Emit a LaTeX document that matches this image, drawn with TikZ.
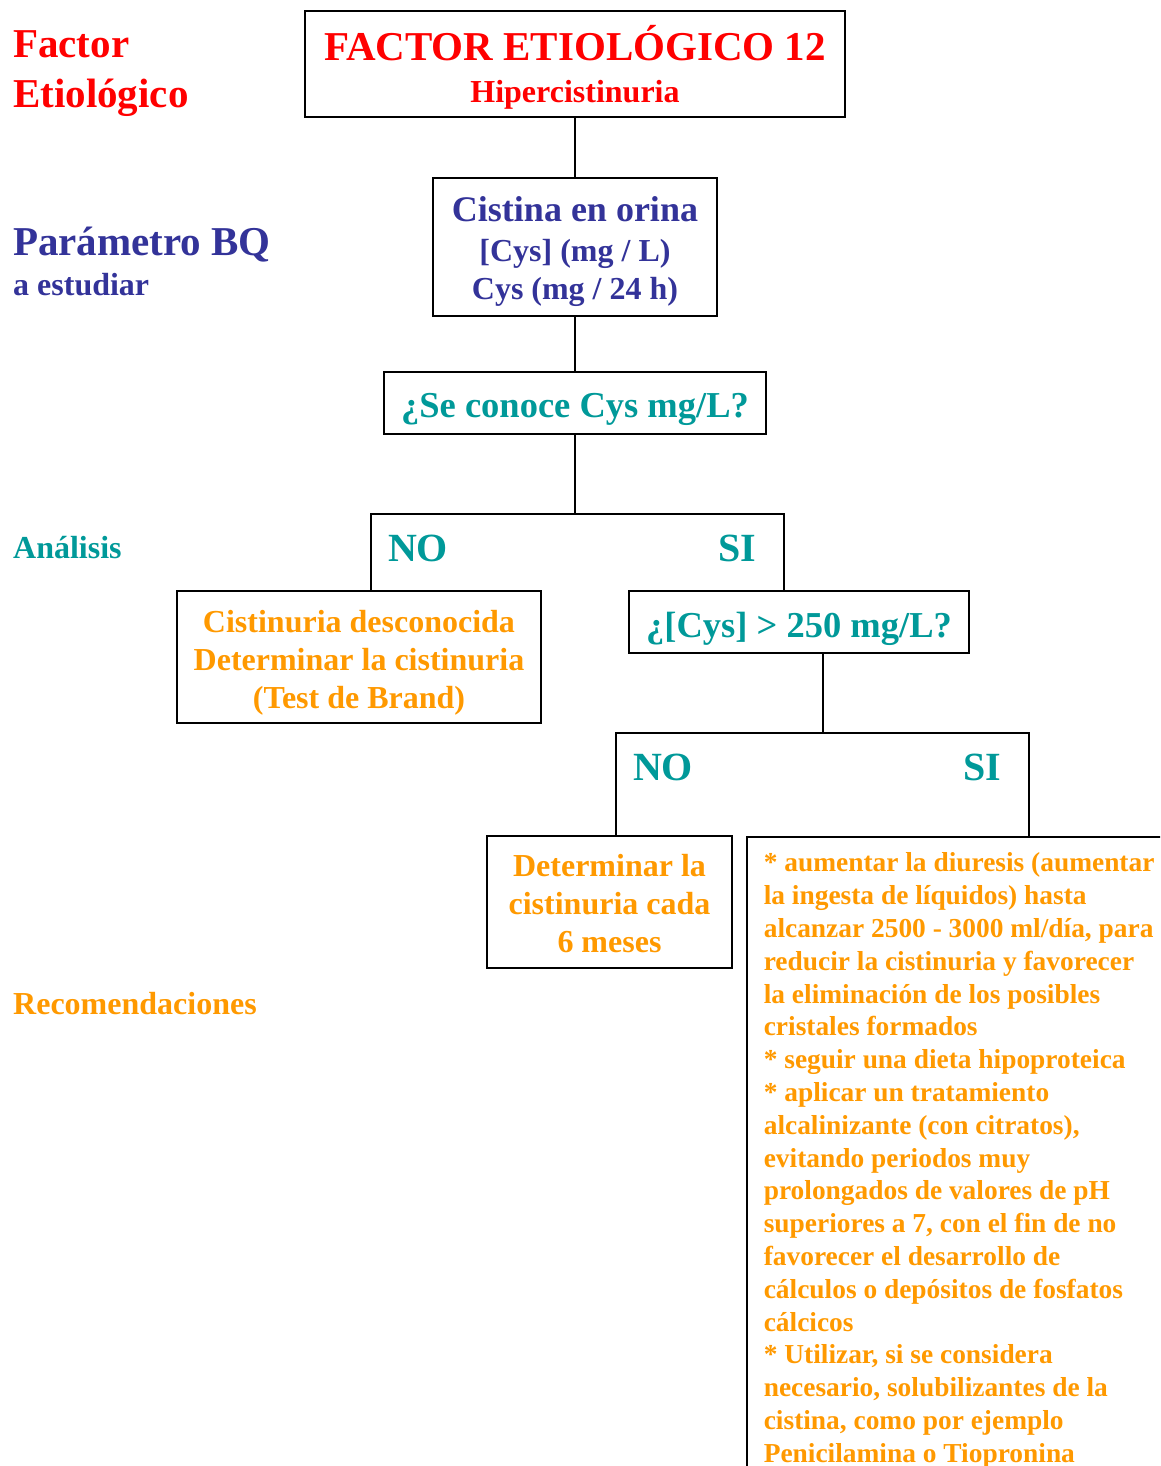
\documentclass[tikz,border=0pt]{standalone}
\usepackage{fontspec}
\setmainfont{Liberation Serif}
\usepackage{xcolor}
\usepackage{tikz}

\definecolor{rojo}{HTML}{FF0000}
\definecolor{azul}{HTML}{333399}
\definecolor{verde}{HTML}{009999}
\definecolor{naranja}{HTML}{FF9900}

\newcommand{\fs}[2]{\fontsize{#1}{#2}\selectfont\bfseries}
\newcommand{\sube}[1]{\rule{0pt}{#1}}

\tikzset{
  caja/.style={draw, line width=1.6pt, inner sep=0pt, align=center},
  etiqueta/.style={anchor=base west, inner sep=0pt},
  rama/.style={line width=1.6pt},
}

\begin{document}
\begin{tikzpicture}[x=1pt, y=-1pt]

\clip (0,0) rectangle (1160,1466);

% etiquetas de la izquierda
\node[etiqueta, text=rojo] (lfac) at (13,58) {\fs{41}{41}Factor};
\node[etiqueta, text=rojo] (leti) at (13,108) {\fs{41}{41}Etiológico};
\node[etiqueta, text=azul] (lpar) at (13,255) {\fs{41}{41}Parámetro BQ};
\node[etiqueta, text=azul] (lest) at (13,295) {\fs{32}{32}a estudiar};
\node[etiqueta, text=verde] (lana) at (13,558) {\fs{32}{32}Análisis};
\node[etiqueta, text=naranja] (lrec) at (13,1014) {\fs{32}{32}Recomendaciones};

% cajas
\node[caja, text=rojo, minimum width=540, minimum height=106, font=\fs{32}{42}] (fe) at (575,64)
  {{\fs{41}{42}\sube{41pt}FACTOR ETIOLÓGICO 12}\\Hipercistinuria};
\node[caja, text=azul, minimum width=284, minimum height=138, font=\fs{32}{38}] (cis) at (575,247)
  {{\fs{36}{38}\sube{35pt}Cistina en orina}\\[2pt][Cys] (mg / L)\\Cys (mg / 24 h)};
\node[caja, text=verde, minimum width=382, minimum height=62, font=\fs{36.5}{38}] (q1) at (575,403)
  {\sube{38pt}¿Se conoce Cys mg/L?};
\node[caja, text=naranja, minimum width=364, minimum height=132, font=\fs{32}{38}] (desc) at (359,657)
  {\sube{34pt}Cistinuria desconocida\\Determinar la cistinuria\\(Test de Brand)};
\node[caja, text=verde, minimum width=340, minimum height=62, font=\fs{36.5}{38}] (q2) at (799,622)
  {\sube{40pt}¿[Cys] > 250 mg/L?};
\node[caja, text=naranja, minimum width=245, minimum height=132, font=\fs{32}{38}] (det) at (609.5,902)
  {\sube{26pt}Determinar la\\cistinuria cada\\6 meses};
\node[caja, text=naranja, anchor=north west, align=left,
      inner xsep=17pt, inner ysep=16pt, font=\fs{27.4}{32.8}] (rec) at (746,836)
  {* aumentar la diuresis (aumentar\\
   la ingesta de líquidos) hasta\\
   alcanzar 2500 - 3000 ml/día, para\\
   reducir la cistinuria y favorecer\\
   la eliminación de los posibles\\
   cristales formados\\
   * seguir una dieta hipoproteica\\
   * aplicar un tratamiento\\
   alcalinizante (con citratos),\\
   evitando periodos muy\\
   prolongados de valores de pH\\
   superiores a 7, con el fin de no\\
   favorecer el desarrollo de\\
   cálculos o depósitos de fosfatos\\
   cálcicos\\
   * Utilizar, si se considera\\
   necesario, solubilizantes de la\\
   cistina, como por ejemplo\\
   Penicilamina o Tiopronina};

% ramas NO / SI
\coordinate (no1) at (371,514);
\coordinate (si1) at (784,514);
\coordinate (c2) at (823,733);
\coordinate (no2) at (616,733);
\coordinate (si2) at (1029,733);

\node[text=verde] (tno1) at (418,548) {\fs{40}{40}NO};
\node[text=verde] (tsi1) at (737,548) {\fs{40}{40}SI};
\node[text=verde] (tno2) at (663,767) {\fs{40}{40}NO};
\node[text=verde] (tsi2) at (982,767) {\fs{40}{40}SI};

% conectores
\draw[rama] (fe.south) -- (cis.north);
\draw[rama] (cis.south) -- (q1.north);
\draw[rama] (q1.south) -- (q1.south |- no1);
\draw[rama] (no1 |- desc.north) -- (no1) -- (si1) -- (si1 |- q2.north);
\draw[rama] (q2.south -| c2) -- (c2);
\draw[rama] (no2 |- det.north) -- (no2) -- (si2) -- (si2 |- rec.north);

\end{tikzpicture}
\end{document}
